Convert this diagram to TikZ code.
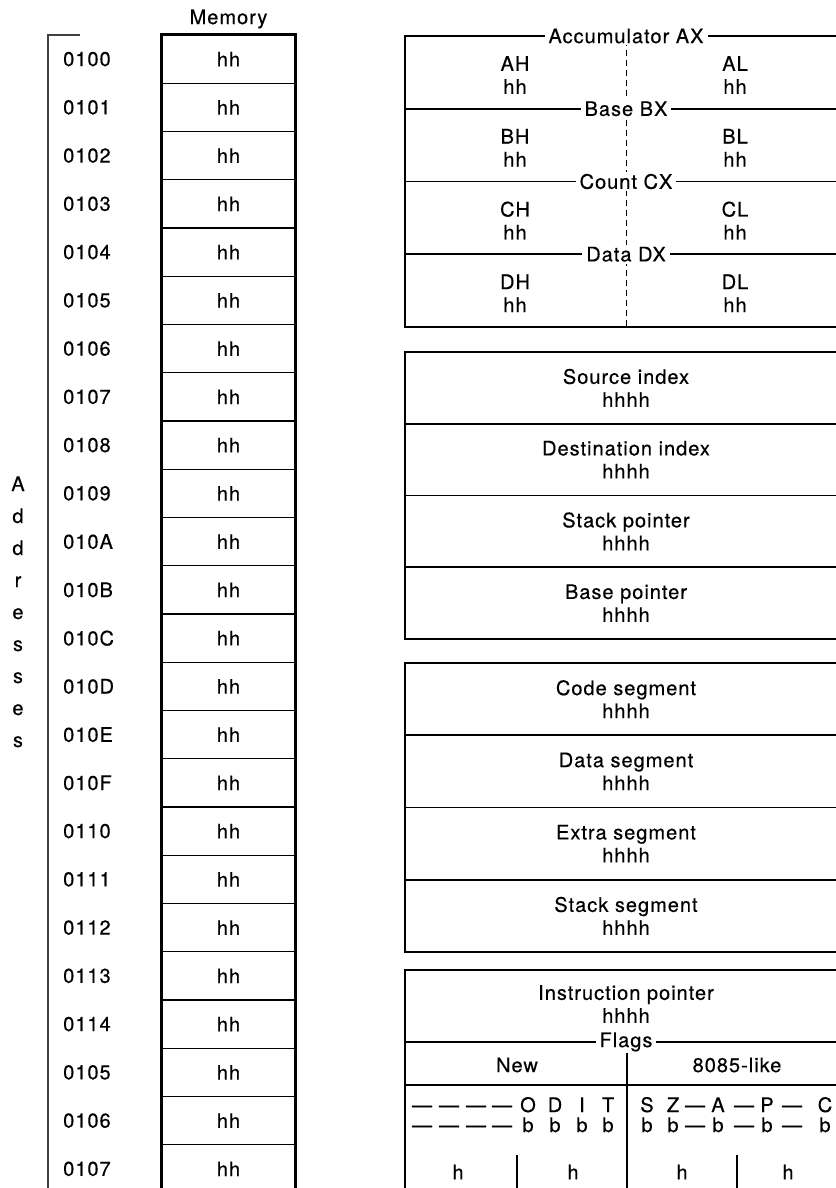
\documentclass[tikz,border=0pt]{standalone}
\usepackage{fontspec}
\setmainfont{TeX Gyre Heros}[LetterSpace=5, FakeBold=0.45]
\usetikzlibrary{positioning}

\begin{document}
\begin{tikzpicture}[
    x=1pt, y=-1pt,
    every node/.style={font=\fontsize{20}{23}\selectfont, inner sep=0pt, align=center},
    frame/.style={line width=2.8pt},
    rule/.style={line width=1.9pt},
    thin rule/.style={line width=1.3pt},
    title/.style={fill=white, inner xsep=4pt, inner ysep=2pt},
    cell/.style={draw, line width=1.3pt, minimum width=133pt, minimum height=48.25pt}
  ]
  \useasboundingbox (0,0) rectangle (835,1188);

  % memory column
  \node (memlabel) at (228.5,19) {Memory};
  \foreach \lab [count=\i from 0] in {0100,0101,0102,0103,0104,0105,0106,0107,0108,0109,010A,010B,010C,010D,010E,010F,0110,0111,0112,0113,0114,0105,0106,0107} {
    \node[cell] (mem\i) at (228.5,{59.125+48.25*\i}) {hh};
    \node[anchor=west] (adr\i) at (63,{59.125+48.25*\i}) {\lab};
  }
  \draw[frame] (mem23.south west) |- (mem0.north east) -- (mem23.south east);

  % addresses
  \draw[line width=1.1pt, black!75] (80,35) -| (48,1190);
  \foreach \c [count=\k from 0] in {A,d,d,r,e,s,s,e,s}
    \node[anchor=base] (ltr\k) at (18,{491+32*\k}) {\c};

  % general registers
  \draw[frame] (845,36) -- (405,36) -- (405,327) -- (845,327);
  \draw[line width=1pt, dash pattern=on 6pt off 4pt] (626,40) -- (626,327);
  \foreach \y/\name/\hi/\lo [count=\k] in {36/Accumulator AX/AH/AL,108.75/Base BX/BH/BL,181.5/Count CX/CH/CL,254.25/Data DX/DH/DL} {
    \draw[rule] (405,\y) -- (845,\y);
    \node[title] (gr\k) at (626,\y) {\name};
    \node (\hi) at (515,{\y+39}) {\hi\\hh};
    \node (\lo) at (735,{\y+39}) {\lo\\hh};
  }

  % pointer and index registers
  \draw[frame] (845,352) -- (405,352) -- (405,639) -- (845,639);
  \foreach \k in {1,2,3}
    \draw[rule] (405,{352+71.75*\k}) -- (845,{352+71.75*\k});
  \foreach \name [count=\k from 0] in {Source index,Destination index,Stack pointer,Base pointer}
    \node (ix\k) at (626,{352+71.75*(\k+0.5)}) {\name\\hhhh};

  % segment registers
  \draw[frame] (845,663) -- (405,663) -- (405,952) -- (845,952);
  \foreach \k in {1,2,3}
    \draw[rule] (405,{663+72.25*\k}) -- (845,{663+72.25*\k});
  \foreach \name [count=\k from 0] in {Code segment,Data segment,Extra segment,Stack segment}
    \node (seg\k) at (626,{663+72.25*(\k+0.5)}) {\name\\hhhh};

  % instruction pointer and flags
  \draw[frame] (845,970) -- (405,970) -- (405,1190);
  \node (ip) at (626,1004) {Instruction pointer\\hhhh};
  \draw[rule] (405,1042) -- (845,1042);
  \draw[thin rule] (627,1042) -- (627,1190);
  \node[title] (flags) at (626,1042) {Flags};
  \node (new) at (517,1065) {New};
  \node (like) at (737,1065) {8085-like};
  \draw[thin rule] (405,1085) -- (845,1085);
  \foreach \x/\t/\b [count=\k] in {422/—/—,449/—/—,476/—/—,502/—/—,528/O/b,555/D/b,582/I/b,608/T/b,647/S/b,673/Z/b,695/—/—,718/A/b,744/—/—,767/P/b,792/—/—,825/C/b} {
    \node[anchor=base] (ftop\k) at (\x,1112) {\t};
    \node[anchor=base] (fbit\k) at (\x,1132) {\b};
  }
  \foreach \x [count=\k] in {458,573,682,788}
    \node (nib\k) at (\x,1172) {h};
  \draw[thin rule] (517,1155) -- (517,1190);
  \draw[thin rule] (737,1155) -- (737,1190);

\end{tikzpicture}
\end{document}
